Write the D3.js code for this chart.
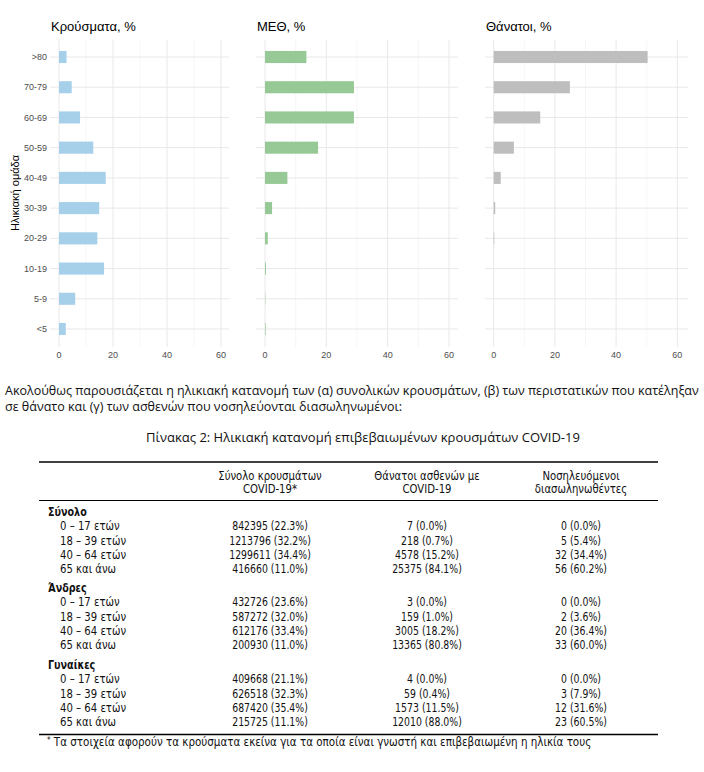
<!DOCTYPE html>
<html>
<head>
<meta charset="utf-8">
<script src="https://cdn.jsdelivr.net/npm/d3@7"></script>
<style>
  body { margin: 0; background: #fff; }
  svg { display: block; }
  .tick-label { font-family: "Liberation Sans", Arial, sans-serif; font-size: 9px; fill: #4d4d4d; }
  .panel-title { font-family: "Liberation Sans", Arial, sans-serif; font-size: 13px; fill: #000; }
  .para { font-family: "Open Sans", sans-serif; font-size: 12.5px; fill: #111; }
  .tbl { font-family: "DejaVu Sans Condensed", sans-serif; font-size: 13px; fill: #111; }
</style>
</head>
<body>
<svg width="704" height="772"></svg>
<script>
//* data
const ageGroups = ["<5", "5-9", "10-19", "20-29", "30-39", "40-49", "50-59", "60-69", "70-79", ">80"];
const casesPct = [2.5, 6.0, 16.7, 14.2, 14.9, 17.3, 12.7, 7.8, 4.7, 2.8];
const icuPct = [0.2, 0.1, 0.3, 0.9, 2.3, 7.3, 17.3, 29.0, 29.0, 13.5];
const deathsPct = [0, 0, 0, 0.2, 0.5, 2.3, 6.6, 15.2, 24.9, 50.3];
const xTicks = [0, 20, 40, 60];
const xMinor = [10, 30, 50];

const groupNames = ["Σύνολο", "Άνδρες", "Γυναίκες"];
const ageBands = ["0 – 17 ετών", "18 – 39 ετών", "40 – 64 ετών", "65 και άνω"];
const colHeaders = [["Σύνολο κρουσμάτων", "COVID-19*"], ["Θάνατοι ασθενών με", "COVID-19"], ["Νοσηλευόμενοι", "διασωληνωθέντες"]];
const totalCases = ["842395 (22.3%)", "1213796 (32.2%)", "1299611 (34.4%)", "416660 (11.0%)"];
const totalDeaths = ["7 (0.0%)", "218 (0.7%)", "4578 (15.2%)", "25375 (84.1%)"];
const totalIntub = ["0 (0.0%)", "5 (5.4%)", "32 (34.4%)", "56 (60.2%)"];
const menCases = ["432726 (23.6%)", "587272 (32.0%)", "612176 (33.4%)", "200930 (11.0%)"];
const menDeaths = ["3 (0.0%)", "159 (1.0%)", "3005 (18.2%)", "13365 (80.8%)"];
const menIntub = ["0 (0.0%)", "2 (3.6%)", "20 (36.4%)", "33 (60.0%)"];
const womenCases = ["409668 (21.1%)", "626518 (32.3%)", "687420 (35.4%)", "215725 (11.1%)"];
const womenDeaths = ["4 (0.0%)", "59 (0.4%)", "1573 (11.5%)", "12010 (88.0%)"];
const womenIntub = ["0 (0.0%)", "3 (7.9%)", "12 (31.6%)", "23 (60.5%)"];

const svg = d3.select("svg");

//* panels
const panels = [
	{ title: "Κρούσματα, %", values: casesPct, color: "#a6d0ea", left: 50, right: 229, x0: 59, x60: 221 },
	{ title: "ΜΕΘ, %", values: icuPct, color: "#97c996", left: 256, right: 458, x0: 265, x60: 449 },
	{ title: "Θάνατοι, %", values: deathsPct, color: "#bebebe", left: 485, right: 688, x0: 493.7, x60: 677.3 },
];
const plotTop = 40, plotBottom = 347;

const y = d3
	.scaleBand()
	.domain(ageGroups.slice().reverse())
	.range([41.9, 344.1])
	.paddingInner(0.6)
	.paddingOuter(0.3);

panels.forEach((p, pi) => {
	const x = d3.scaleLinear().domain([0, 60]).range([p.x0, p.x60]);
	const g = svg.append("g");

	// grid
	g.selectAll("line.minor")
		.data(xMinor)
		.enter()
		.append("line")
		.attr("x1", (d) => x(d))
		.attr("x2", (d) => x(d))
		.attr("y1", plotTop)
		.attr("y2", plotBottom)
		.style("stroke", "#f0f0f0")
		.style("stroke-width", 0.6);
	g.selectAll("line.major")
		.data(xTicks)
		.enter()
		.append("line")
		.attr("x1", (d) => x(d))
		.attr("x2", (d) => x(d))
		.attr("y1", plotTop)
		.attr("y2", plotBottom)
		.style("stroke", "#e8e8e8")
		.style("stroke-width", 1);
	g.selectAll("line.hgrid")
		.data(ageGroups)
		.enter()
		.append("line")
		.attr("x1", p.left)
		.attr("x2", p.right)
		.attr("y1", (d) => y(d) + y.bandwidth() / 2)
		.attr("y2", (d) => y(d) + y.bandwidth() / 2)
		.style("stroke", "#e8e8e8")
		.style("stroke-width", 1);

	// bars
	g.selectAll("rect")
		.data(p.values)
		.enter()
		.append("rect")
		.attr("x", x(0))
		.attr("y", (_, i) => y(ageGroups[i]))
		.attr("width", (d) => x(d) - x(0))
		.attr("height", y.bandwidth())
		.style("fill", p.color);

	// x tick labels
	g.selectAll("text.xt")
		.data(xTicks)
		.enter()
		.append("text")
		.attr("class", "tick-label")
		.attr("x", (d) => x(d))
		.attr("y", 358)
		.attr("text-anchor", "middle")
		.text((d) => d);

	// title
	g.append("text")
		.attr("class", "panel-title")
		.attr("x", p.left + 1)
		.attr("y", 31)
		.text(p.title);

	// y tick labels only on first panel
	if (pi === 0) {
		g.selectAll("text.yt")
			.data(ageGroups)
			.enter()
			.append("text")
			.attr("class", "tick-label")
			.attr("x", 47)
			.attr("y", (d) => y(d) + y.bandwidth() / 2)
			.attr("dy", "0.35em")
			.attr("text-anchor", "end")
			.text((d) => d);
	}
});

svg.append("text")
	.attr("class", "panel-title")
	.attr("transform", "translate(19, 193) rotate(-90)")
	.attr("text-anchor", "middle")
	.style("font-size", "11px")
	.text("Ηλικιακή ομάδα");

//* paragraph
svg.append("text")
	.attr("class", "para")
	.attr("x", 5)
	.attr("y", 395)
	.text("Ακολούθως παρουσιάζεται η ηλικιακή κατανομή των (α) συνολικών κρουσμάτων, (β) των περιστατικών που κατέληξαν");
svg.append("text")
	.attr("class", "para")
	.attr("x", 5)
	.attr("y", 411)
	.text("σε θάνατο και (γ) των ασθενών που νοσηλεύονται διασωληνωμένοι:");

svg.append("text")
	.attr("class", "para")
	.attr("x", 363)
	.attr("y", 441.5)
	.attr("text-anchor", "middle")
	.style("font-size", "13px")
	.text("Πίνακας 2: Ηλικιακή κατανομή επιβεβαιωμένων κρουσμάτων COVID-19");

//* table
// the reference font is narrower than anything installed, so squeeze horizontally
const put = (x, yy, txt, sx, anchor) =>
	svg.append("text")
		.attr("class", "tbl")
		.attr("transform", `translate(${x}, ${yy}) scale(${sx}, 1)`)
		.attr("dy", "0.35em")
		.attr("text-anchor", anchor || "start")
		.text(txt);

const colX = [270, 427, 581];
const groups = [
	[totalCases, totalDeaths, totalIntub],
	[menCases, menDeaths, menIntub],
	[womenCases, womenDeaths, womenIntub],
];
const rule = (yy, w) =>
	svg.append("line")
		.attr("x1", 39)
		.attr("x2", 658)
		.attr("y1", yy)
		.attr("y2", yy)
		.style("stroke", "#000")
		.style("stroke-width", w);
rule(462, 1.3);
rule(500.5, 1);
rule(734.5, 1.3);

colHeaders.forEach((h, ci) => {
	h.forEach((line, li) => put(colX[ci], 475 + li * 13.5, line, 0.865, "middle"));
});

const groupTop = [511, 587, 664];
const rowStep = 14.3;
groups.forEach((cols, gi) => {
	put(48, groupTop[gi], groupNames[gi], 0.82).style("font-weight", "bold");
	ageBands.forEach((band, ri) => {
		const yy = groupTop[gi] + 14.7 + ri * rowStep;
		put(60, yy, band, 0.865);
		cols.forEach((col, ci) => put(colX[ci], yy, col[ri], 0.8, "middle"));
	});
});

put(47, 745, "", 0.885)
	.html('<tspan dy="-0.25em" style="font-size:9px">*</tspan><tspan dy="0.25em"> Τα στοιχεία αφορούν τα κρούσματα εκείνα για τα οποία είναι γνωστή και επιβεβαιωμένη η ηλικία τους</tspan>');
</script>
</body>
</html>
